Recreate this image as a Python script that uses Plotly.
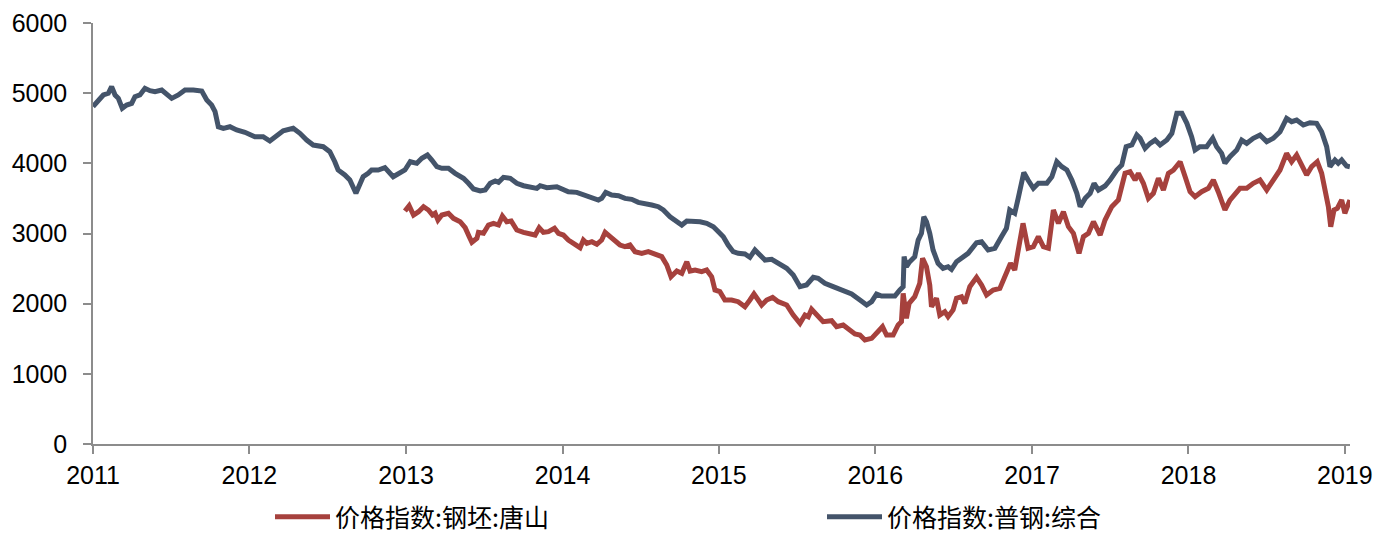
import pandas as pd
import plotly.graph_objects as go

# ---- data (decimal years, index values) ----
steel_all_t = [2011.000, 2011.066, 2011.098, 2011.119, 2011.141, 2011.162, 2011.187, 2011.215, 2011.247, 2011.268,
               2011.300, 2011.332, 2011.364, 2011.396, 2011.439, 2011.471, 2011.503, 2011.545, 2011.588, 2011.641,
               2011.695, 2011.727, 2011.758, 2011.780, 2011.801, 2011.833, 2011.875, 2011.918, 2011.971, 2012.035,
               2012.088, 2012.131, 2012.174, 2012.216, 2012.280, 2012.323, 2012.366, 2012.408, 2012.472, 2012.514,
               2012.546, 2012.567, 2012.610, 2012.642, 2012.681, 2012.706, 2012.727, 2012.759, 2012.781, 2012.823,
               2012.866, 2012.919, 2012.962, 2012.994, 2013.026, 2013.068, 2013.100, 2013.136, 2013.164, 2013.196,
               2013.228, 2013.270, 2013.313, 2013.366, 2013.398, 2013.430, 2013.473, 2013.505, 2013.537, 2013.569,
               2013.590, 2013.622, 2013.665, 2013.707, 2013.750, 2013.792, 2013.835, 2013.856, 2013.899, 2013.963,
               2013.995, 2014.037, 2014.091, 2014.144, 2014.187, 2014.229, 2014.250, 2014.276, 2014.314, 2014.357,
               2014.399, 2014.442, 2014.484, 2014.527, 2014.570, 2014.612, 2014.644, 2014.687, 2014.730, 2014.762,
               2014.794, 2014.836, 2014.879, 2014.921, 2014.964, 2014.996, 2015.028, 2015.059, 2015.091, 2015.123,
               2015.166, 2015.198, 2015.230, 2015.262, 2015.294, 2015.337, 2015.379, 2015.433, 2015.475, 2015.518,
               2015.560, 2015.603, 2015.634, 2015.677, 2015.730, 2015.794, 2015.848, 2015.901, 2015.944, 2015.976,
               2016.008, 2016.040, 2016.082, 2016.125, 2016.157, 2016.178, 2016.184, 2016.199, 2016.220, 2016.252,
               2016.274, 2016.295, 2016.310, 2016.327, 2016.348, 2016.369, 2016.401, 2016.433, 2016.465, 2016.487,
               2016.519, 2016.561, 2016.593, 2016.647, 2016.679, 2016.721, 2016.764, 2016.806, 2016.838, 2016.859,
               2016.891, 2016.913, 2016.949, 2016.976, 2017.008, 2017.040, 2017.094, 2017.126, 2017.158, 2017.190,
               2017.222, 2017.254, 2017.286, 2017.307, 2017.339, 2017.371, 2017.396, 2017.424, 2017.466, 2017.498,
               2017.541, 2017.573, 2017.601, 2017.637, 2017.669, 2017.690, 2017.722, 2017.754, 2017.786, 2017.818,
               2017.861, 2017.893, 2017.925, 2017.957, 2017.989, 2018.020, 2018.042, 2018.073, 2018.116, 2018.155,
               2018.180, 2018.212, 2018.233, 2018.265, 2018.308, 2018.340, 2018.372, 2018.414, 2018.457, 2018.500,
               2018.542, 2018.585, 2018.627, 2018.659, 2018.691, 2018.734, 2018.776, 2018.819, 2018.851, 2018.883,
               2018.904, 2018.936, 2018.957, 2018.979, 2019.011, 2019.032]
steel_all_v = [4810, 4974, 4998, 5092, 4974, 4926, 4784, 4831, 4855, 4950,
               4974, 5069, 5035, 5021, 5045, 4974, 4926, 4974, 5045, 5045,
               5031, 4902, 4831, 4736, 4522, 4499, 4522, 4475, 4442, 4380,
               4380, 4318, 4404, 4465, 4499, 4428, 4332, 4261, 4237, 4166,
               4023, 3905, 3834, 3762, 3573, 3715, 3809, 3858, 3905, 3905,
               3938, 3809, 3858, 3905, 4023, 4000, 4071, 4119, 4047, 3952,
               3929, 3929, 3858, 3786, 3715, 3634, 3606, 3620, 3715, 3748,
               3729, 3801, 3786, 3715, 3681, 3667, 3643, 3681, 3653, 3667,
               3634, 3596, 3586, 3549, 3501, 3477, 3501, 3586, 3549, 3539,
               3501, 3487, 3444, 3416, 3406, 3382, 3335, 3239, 3159, 3121,
               3178, 3178, 3168, 3145, 3097, 3026, 2955, 2836, 2741, 2717,
               2708, 2661, 2765, 2693, 2622, 2632, 2575, 2504, 2408, 2242,
               2266, 2375, 2361, 2290, 2242, 2195, 2138, 2052, 1981, 2028,
               2138, 2109, 2109, 2109, 2195, 2242, 2670, 2527, 2598, 2670,
               2907, 3003, 3239, 3168, 3003, 2765, 2575, 2504, 2527, 2489,
               2598, 2670, 2717, 2869, 2883, 2765, 2789, 2955, 3074, 3335,
               3288, 3501, 3870, 3762, 3644, 3715, 3715, 3809, 4023, 3952,
               3905, 3762, 3573, 3382, 3501, 3573, 3715, 3620, 3677, 3762,
               3905, 3976, 4237, 4261, 4404, 4357, 4214, 4285, 4332, 4261,
               4332, 4428, 4713, 4713, 4570, 4380, 4190, 4237, 4237, 4357,
               4237, 4142, 4000, 4095, 4190, 4332, 4285, 4357, 4404, 4309,
               4357, 4451, 4641, 4594, 4617, 4546, 4579, 4570, 4451, 4237,
               3952, 4047, 4000, 4047, 3962, 3952]

billet_ts_t = [2012.994, 2013.019, 2013.047, 2013.079, 2013.111, 2013.142, 2013.168, 2013.185, 2013.203, 2013.228,
               2013.270, 2013.302, 2013.345, 2013.377, 2013.403, 2013.420, 2013.452, 2013.462, 2013.494, 2013.526,
               2013.558, 2013.590, 2013.615, 2013.643, 2013.671, 2013.707, 2013.750, 2013.792, 2013.824, 2013.850,
               2013.877, 2013.909, 2013.948, 2013.973, 2014.005, 2014.037, 2014.080, 2014.112, 2014.133, 2014.155,
               2014.187, 2014.219, 2014.250, 2014.272, 2014.304, 2014.335, 2014.367, 2014.399, 2014.431, 2014.463,
               2014.506, 2014.548, 2014.591, 2014.634, 2014.666, 2014.693, 2014.730, 2014.762, 2014.794, 2014.815,
               2014.847, 2014.889, 2014.921, 2014.953, 2014.974, 2015.006, 2015.038, 2015.081, 2015.123, 2015.166,
               2015.198, 2015.224, 2015.251, 2015.273, 2015.305, 2015.343, 2015.379, 2015.433, 2015.475, 2015.518,
               2015.550, 2015.571, 2015.592, 2015.634, 2015.666, 2015.720, 2015.752, 2015.794, 2015.837, 2015.869,
               2015.901, 2015.933, 2015.976, 2016.008, 2016.046, 2016.072, 2016.114, 2016.146, 2016.167, 2016.178,
               2016.199, 2016.216, 2016.252, 2016.284, 2016.302, 2016.327, 2016.348, 2016.359, 2016.391, 2016.412,
               2016.444, 2016.465, 2016.497, 2016.519, 2016.551, 2016.572, 2016.604, 2016.647, 2016.679, 2016.711,
               2016.753, 2016.796, 2016.827, 2016.864, 2016.891, 2016.923, 2016.944, 2016.976, 2017.008, 2017.040,
               2017.072, 2017.104, 2017.136, 2017.168, 2017.200, 2017.232, 2017.264, 2017.300, 2017.328, 2017.360,
               2017.392, 2017.435, 2017.466, 2017.509, 2017.551, 2017.594, 2017.626, 2017.658, 2017.679, 2017.711,
               2017.743, 2017.775, 2017.807, 2017.839, 2017.871, 2017.903, 2017.946, 2017.978, 2018.010, 2018.042,
               2018.084, 2018.127, 2018.159, 2018.190, 2018.233, 2018.265, 2018.297, 2018.329, 2018.372, 2018.414,
               2018.457, 2018.500, 2018.542, 2018.585, 2018.627, 2018.659, 2018.691, 2018.734, 2018.755, 2018.787,
               2018.823, 2018.851, 2018.872, 2018.894, 2018.909, 2018.930, 2018.951, 2018.979, 2019.000, 2019.032]
billet_ts_v = [3320, 3396, 3264, 3311, 3382, 3335, 3264, 3288, 3192, 3264,
               3288, 3216, 3168, 3083, 2955, 2875, 2931, 3017, 3003, 3121,
               3145, 3121, 3249, 3168, 3178, 3050, 3017, 3003, 2978, 3083,
               3017, 3026, 3074, 3003, 2978, 2907, 2836, 2798, 2907, 2860,
               2883, 2846, 2907, 3017, 2955, 2907, 2836, 2812, 2836, 2741,
               2717, 2741, 2703, 2670, 2551, 2384, 2465, 2432, 2598, 2465,
               2480, 2456, 2480, 2384, 2195, 2171, 2052, 2052, 2028, 1957,
               2052, 2138, 2052, 1981, 2052, 2090, 2028, 1981, 1838, 1720,
               1838, 1814, 1920, 1814, 1743, 1757, 1672, 1696, 1625, 1568,
               1553, 1482, 1506, 1578, 1672, 1553, 1553, 1696, 1743, 2147,
               1791, 2005, 2099, 2290, 2646, 2527, 2266, 1957, 2076, 1838,
               1886, 1814, 1910, 2076, 2099, 2005, 2242, 2375, 2266, 2123,
               2195, 2218, 2384, 2575, 2480, 2860, 3145, 2789, 2812, 2955,
               2812, 2789, 3335, 3145, 3311, 3097, 3003, 2717, 2955, 3003,
               3168, 2978, 3192, 3382, 3477, 3858, 3881, 3762, 3858, 3715,
               3501, 3573, 3786, 3620, 3858, 3905, 4023, 3809, 3596, 3525,
               3596, 3644, 3762, 3596, 3335, 3477, 3573, 3644, 3644, 3715,
               3762, 3620, 3762, 3905, 4142, 4023, 4119, 3929, 3834, 3952,
               4023, 3858, 3620, 3382, 3097, 3335, 3358, 3477, 3288, 3477]

series_names = ["价格指数:钢坯:唐山", "价格指数:普钢:综合"]
series_colors = ["#A6413D", "#44546A"]
y_ticks = [0, 1000, 2000, 3000, 4000, 5000, 6000]


def to_dates(ts):
    out = []
    for t in ts:
        y = int(t)
        out.append(pd.Timestamp(year=y, month=1, day=1) + pd.Timedelta(days=(t - y) * 365.25))
    return out


fig = go.Figure()
fig.add_trace(go.Scatter(x=to_dates(billet_ts_t), y=billet_ts_v, mode="lines",
                         name=series_names[0], line=dict(color=series_colors[0], width=5)))
fig.add_trace(go.Scatter(x=to_dates(steel_all_t), y=steel_all_v, mode="lines",
                         name=series_names[1], line=dict(color=series_colors[1], width=5)))

axis_font = dict(family="Liberation Sans, Arial, sans-serif", size=25, color="#000000")
fig.update_layout(
    width=1392, height=534,
    margin=dict(l=93, r=42, t=23, b=90, autoexpand=False),
    paper_bgcolor="white", plot_bgcolor="white",
    showlegend=True,
    legend=dict(orientation="h", xref="container", yref="container",
                x=270 / 1392, xanchor="left", y=1 - 517 / 534, yanchor="middle",
                font=dict(family="Noto Sans CJK SC", size=25, color="#000000"),
                itemwidth=55, entrywidth=482, entrywidthmode="pixels", bgcolor="rgba(0,0,0,0)"),
    xaxis=dict(type="date", range=["2011-01-01", "2019-01-13"], dtick="M12", tick0="2011-01-01",
               tickformat="%Y", showgrid=False, zeroline=False, showline=True, linecolor="#8C8C8C",
               linewidth=1.5, ticks="outside", ticklen=8, tickcolor="#8C8C8C", tickwidth=1.5,
               tickfont=axis_font, ticklabelstandoff=0, automargin=False),
    yaxis=dict(range=[0, 6000], tickvals=y_ticks, showgrid=False, zeroline=False, showline=True,
               linecolor="#8C8C8C", linewidth=1.5, ticks="outside", ticklen=8, tickcolor="#8C8C8C",
               tickwidth=1.5, tickfont=axis_font, ticklabelstandoff=11, automargin=False),
)

fig.write_html("out.html", config={"displayModeBar": False},
               post_script="document.body.style.margin='0px';")
